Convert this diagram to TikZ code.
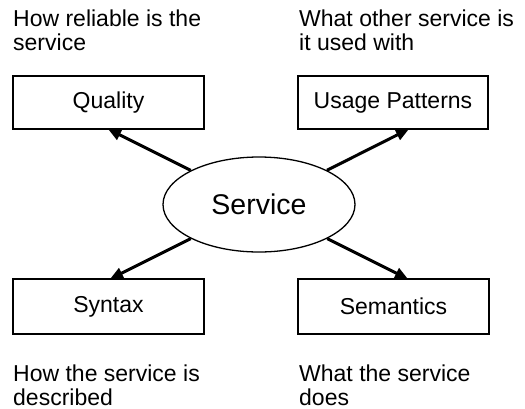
\documentclass[tikz,border=0pt]{standalone}
\usepackage{fontspec}
\setmainfont{Liberation Sans}
\usetikzlibrary{shapes.geometric,arrows.meta}
\begin{document}
\begin{tikzpicture}[x=1pt,y=-1pt,
  box/.style={draw,line width=1.6pt,minimum width=191pt,inner sep=0pt,font=\fontsize{23}{23.5}\selectfont},
  note/.style={anchor=base west,inner sep=0pt,align=left,font=\fontsize{23}{23.5}\selectfont},
  arr/.style={line width=3pt,-{Triangle[length=13pt,width=11pt]}}]
\useasboundingbox (0,0) rectangle (525,408);
\node[draw,ellipse,line width=1.3pt,minimum width=192pt,minimum height=95pt,inner sep=0pt,font=\fontsize{28.5}{30}\selectfont] (svc) at (259,204.5) {Service};
\node[box,minimum height=53pt] (q) at (108.5,102.5) {Quality};
\node[box,minimum height=53pt,minimum width=190pt] (u) at (393,102.5) {Usage Patterns};
\node[box,minimum height=55pt] (sy) at (108.5,306.5) {Syntax};
\node[box,minimum height=55pt] (se) at (393.5,306.5) {Semantics};
\coordinate (qt) at (108,129);
\coordinate (ut) at (409,129);
\coordinate (syt) at (110,279);
\coordinate (set) at (408,279);
\draw[arr] (svc) -- (qt);
\draw[arr] (svc) -- (ut);
\draw[arr] (svc) -- (syt);
\draw[arr] (svc) -- (set);
\node[note] (n1) at (13,50.2) {How reliable is the\\service};
\node[note] (n2) at (299,50.2) {What other service is\\it used with};
\node[note] (n3) at (13,405.2) {How the service is\\described};
\node[note] (n4) at (299,405.2) {What the service\\does};
\end{tikzpicture}
\end{document}
